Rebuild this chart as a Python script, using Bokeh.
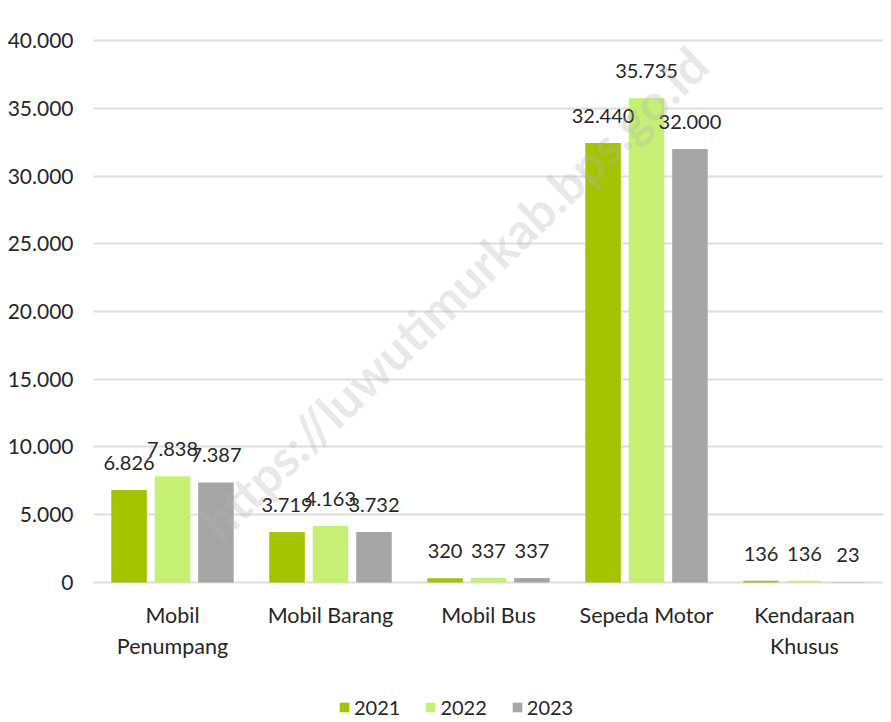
from bokeh.plotting import figure
from bokeh.models import ColumnDataSource, FactorRange, FixedTicker, LabelSet, Label, Legend, LegendItem, Range1d
from bokeh.core.properties import value
from bokeh.transform import dodge
from bokeh.layouts import column
from bokeh.embed import file_html
from bokeh.resources import INLINE

categories = ["Mobil\nPenumpang", "Mobil Barang", "Mobil Bus", "Sepeda Motor", "Kendaraan\nKhusus"]
years = ["2021", "2022", "2023"]
v2021 = [6826, 3719, 320, 32440, 136]
v2022 = [7838, 4163, 337, 35735, 136]
v2023 = [7387, 3732, 337, 32000, 23]
y_ticks = [0, 5000, 10000, 15000, 20000, 25000, 30000, 35000, 40000]
watermark = "https://luwutimurkab.bps.go.id"

colors = ["#a4c400", "#c5f073", "#a6a6a6"]
FONT = "Lato"

def fmt(v):
    return f"{v:,}".replace(",", ".")

src = ColumnDataSource(dict(
    cat=categories,
    y2021=v2021, y2022=v2022, y2023=v2023,
    l2021=[fmt(v) for v in v2021],
    l2022=[fmt(v) for v in v2022],
    l2023=[fmt(v) for v in v2023],
))

p = figure(x_range=FactorRange(*categories), y_range=Range1d(-150, 40150),
           frame_width=790, frame_height=546, output_backend="svg", toolbar_location=None,
           min_border_left=93, min_border_right=0, min_border_top=38, min_border_bottom=108)
p.outline_line_color = None
p.background_fill_color = "white"

offsets = [-0.275, 0.0, 0.275]
for yr, col, off in zip(years, colors, offsets):
    p.vbar(x=dodge("cat", off, range=p.x_range), top="y" + yr, bottom=0, width=0.225,
           source=src, fill_color=col, line_color=None)
    lab = LabelSet(x=dodge("cat", off, range=p.x_range), y="y" + yr, text="l" + yr,
                   source=src, text_align="center", text_baseline="alphabetic",
                   y_offset=20, text_font=value(FONT), text_font_size=value("20px"),
                   text_color=value("#262626"))
    p.add_layout(lab)

wm = Label(x=2.28, y=21400, text=watermark, angle=44, angle_units="deg",
           text_align="center", text_baseline="middle", text_font=FONT,
           text_font_style="bold", text_font_size="50px", text_color="#b4b4b4",
           text_alpha=0.3)
p.add_layout(wm)

p.yaxis.ticker = FixedTicker(ticks=y_ticks)
p.yaxis.major_label_overrides = {t: fmt(t) for t in y_ticks}
p.yaxis.axis_line_color = None
p.yaxis.major_tick_line_color = None
p.yaxis.minor_tick_line_color = None
p.yaxis.major_label_standoff = 14
p.yaxis.major_label_text_font = FONT
p.yaxis.major_label_text_font_size = "21px"
p.yaxis.major_label_text_color = "#262626"

p.xaxis.axis_line_color = None
p.xaxis.major_tick_line_color = None
p.xaxis.major_label_standoff = 11
p.xaxis.major_label_text_font = FONT
p.xaxis.major_label_text_font_size = "21.5px"
p.xaxis.major_label_text_color = "#262626"

p.xgrid.grid_line_color = None
p.ygrid.grid_line_color = "#dedede"
p.ygrid.grid_line_width = 2

# legend strip below the chart (its proxy bars lie outside the visible range)
lg = figure(width=883, height=30, output_backend="svg", toolbar_location=None,
            x_range=Range1d(0, 1), y_range=Range1d(0, 1),
            min_border=0, outline_line_color=None)
lg.axis.visible = False
lg.grid.visible = False
leg_src = ColumnDataSource(dict(x=[10], top=[20]))
items = []
for yr, col in zip(years, colors):
    r = lg.vbar(x="x", top="top", bottom=15, width=0.1, source=leg_src,
                fill_color=col, line_color=None)
    items.append(LegendItem(label=yr, renderers=[r]))
legend = Legend(items=items, orientation="horizontal", location=(245, 3),
                label_text_font=FONT, label_text_font_size="20px", label_text_color="#262626",
                glyph_width=12, glyph_height=12, spacing=24, label_standoff=4,
                border_line_color=None, background_fill_alpha=0, margin=0, padding=2)
lg.add_layout(legend)

layout = column(p, lg, spacing=0)
open("out.html", "w").write(file_html(layout, INLINE))
